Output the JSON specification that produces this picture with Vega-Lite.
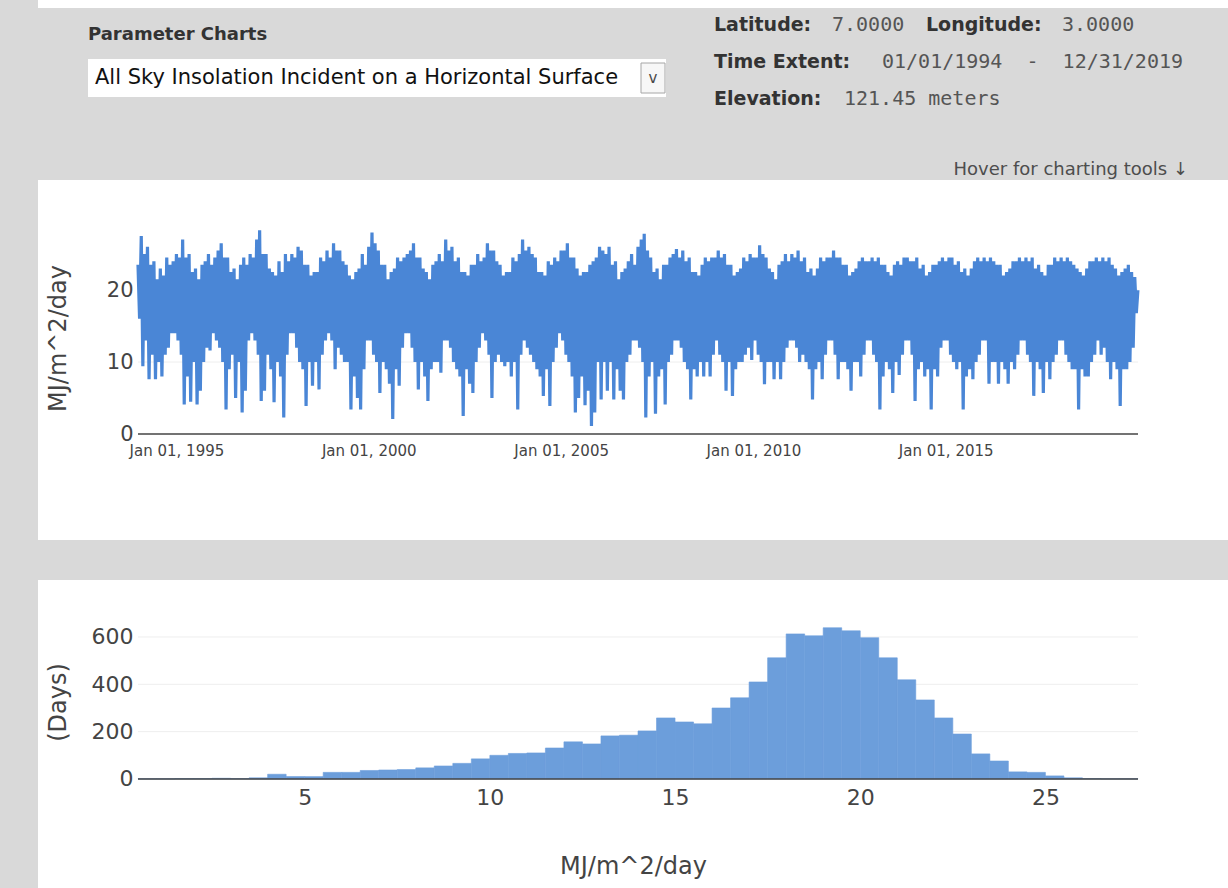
{
"$schema": "https://vega.github.io/schema/vega-lite/v6.json",
"background": "#d9d9d9",
"padding": {"left": 38, "top": 0, "right": 0, "bottom": 0},
"config": {"view": {"stroke": null}, "font": "DejaVu Sans", "axis": {"labelFont": "DejaVu Sans", "titleFont": "DejaVu Sans"}, "title": {"font": "DejaVu Sans"}},
"datasets": {
"daily": [
{"date":"1994-01-01","value":23.5},{"date":"1994-01-16","value":16},{"date":"1994-02-01","value":27.5},{"date":"1994-02-16","value":9.4},{"date":"1994-03-01","value":25},{"date":"1994-03-16","value":13},{"date":"1994-04-01","value":26},{"date":"1994-04-16","value":7.6},{"date":"1994-05-01","value":23.5},{"date":"1994-05-16","value":11},{"date":"1994-06-01","value":24},{"date":"1994-06-16","value":7.6},{"date":"1994-07-01","value":21.5},{"date":"1994-07-16","value":10},{"date":"1994-08-01","value":23},{"date":"1994-08-16","value":8},{"date":"1994-09-01","value":22},{"date":"1994-09-16","value":11},{"date":"1994-10-01","value":24.5},{"date":"1994-10-16","value":12},{"date":"1994-11-01","value":23.5},{"date":"1994-11-16","value":14},{"date":"1994-12-01","value":24},{"date":"1994-12-16","value":14},
{"date":"1995-01-01","value":25},{"date":"1995-01-16","value":13},{"date":"1995-02-01","value":24.5},{"date":"1995-02-16","value":11},{"date":"1995-03-01","value":27},{"date":"1995-03-16","value":4.1},{"date":"1995-04-01","value":24.5},{"date":"1995-04-16","value":8},{"date":"1995-05-01","value":25},{"date":"1995-05-16","value":4.5},{"date":"1995-06-01","value":22.5},{"date":"1995-06-16","value":10},{"date":"1995-07-01","value":23},{"date":"1995-07-16","value":4.1},{"date":"1995-08-01","value":21.5},{"date":"1995-08-16","value":6},{"date":"1995-09-01","value":23.5},{"date":"1995-09-16","value":10},{"date":"1995-10-01","value":24},{"date":"1995-10-16","value":12},{"date":"1995-11-01","value":25},{"date":"1995-11-16","value":11.6},{"date":"1995-12-01","value":23.5},{"date":"1995-12-16","value":14},
{"date":"1996-01-01","value":24.5},{"date":"1996-01-16","value":13},{"date":"1996-02-01","value":25.5},{"date":"1996-02-16","value":12},{"date":"1996-03-01","value":26.5},{"date":"1996-03-16","value":10},{"date":"1996-04-01","value":24.5},{"date":"1996-04-16","value":3.4},{"date":"1996-05-01","value":24.5},{"date":"1996-05-16","value":9},{"date":"1996-06-01","value":22.5},{"date":"1996-06-16","value":11},{"date":"1996-07-01","value":23},{"date":"1996-07-16","value":5},{"date":"1996-08-01","value":21.5},{"date":"1996-08-16","value":10},{"date":"1996-09-01","value":23.5},{"date":"1996-09-16","value":3},{"date":"1996-10-01","value":24.5},{"date":"1996-10-16","value":6},{"date":"1996-11-01","value":23.5},{"date":"1996-11-16","value":13},{"date":"1996-12-01","value":25},{"date":"1996-12-16","value":14},
{"date":"1997-01-01","value":24.5},{"date":"1997-01-16","value":13},{"date":"1997-02-01","value":27},{"date":"1997-02-16","value":11},{"date":"1997-03-01","value":28.3},{"date":"1997-03-16","value":4.6},{"date":"1997-04-01","value":25},{"date":"1997-04-16","value":6},{"date":"1997-05-01","value":25},{"date":"1997-05-16","value":11},{"date":"1997-06-01","value":23},{"date":"1997-06-16","value":9},{"date":"1997-07-01","value":22.5},{"date":"1997-07-16","value":4.4},{"date":"1997-08-01","value":22},{"date":"1997-08-16","value":10},{"date":"1997-09-01","value":24},{"date":"1997-09-16","value":8},{"date":"1997-10-01","value":22.5},{"date":"1997-10-16","value":2.3},{"date":"1997-11-01","value":25},{"date":"1997-11-16","value":11},{"date":"1997-12-01","value":24},{"date":"1997-12-16","value":14},
{"date":"1998-01-01","value":25},{"date":"1998-01-16","value":14},{"date":"1998-02-01","value":24.5},{"date":"1998-02-16","value":12},{"date":"1998-03-01","value":26},{"date":"1998-03-16","value":10},{"date":"1998-04-01","value":25.5},{"date":"1998-04-16","value":9},{"date":"1998-05-01","value":23.5},{"date":"1998-05-16","value":3.9},{"date":"1998-06-01","value":23.5},{"date":"1998-06-16","value":10},{"date":"1998-07-01","value":22},{"date":"1998-07-16","value":6.7},{"date":"1998-08-01","value":22.5},{"date":"1998-08-16","value":10},{"date":"1998-09-01","value":22.5},{"date":"1998-09-16","value":6.2},{"date":"1998-10-01","value":24.5},{"date":"1998-10-16","value":11},{"date":"1998-11-01","value":24},{"date":"1998-11-16","value":13},{"date":"1998-12-01","value":25.5},{"date":"1998-12-16","value":14},
{"date":"1999-01-01","value":24.5},{"date":"1999-01-16","value":13},{"date":"1999-02-01","value":26.5},{"date":"1999-02-16","value":9},{"date":"1999-03-01","value":25.5},{"date":"1999-03-16","value":12},{"date":"1999-04-01","value":25.5},{"date":"1999-04-16","value":11},{"date":"1999-05-01","value":24},{"date":"1999-05-16","value":10},{"date":"1999-06-01","value":23.5},{"date":"1999-06-16","value":10},{"date":"1999-07-01","value":22},{"date":"1999-07-16","value":3.4},{"date":"1999-08-01","value":21.5},{"date":"1999-08-16","value":8},{"date":"1999-09-01","value":22.5},{"date":"1999-09-16","value":5},{"date":"1999-10-01","value":23},{"date":"1999-10-16","value":3.4},{"date":"1999-11-01","value":25},{"date":"1999-11-16","value":9},{"date":"1999-12-01","value":23.5},{"date":"1999-12-16","value":13},
{"date":"2000-01-01","value":26},{"date":"2000-01-16","value":13},{"date":"2000-02-01","value":28},{"date":"2000-02-16","value":11},{"date":"2000-03-01","value":26.5},{"date":"2000-03-16","value":10},{"date":"2000-04-01","value":25.5},{"date":"2000-04-16","value":5.7},{"date":"2000-05-01","value":23.5},{"date":"2000-05-16","value":10},{"date":"2000-06-01","value":23.5},{"date":"2000-06-16","value":9},{"date":"2000-07-01","value":21.5},{"date":"2000-07-16","value":7},{"date":"2000-08-01","value":22.5},{"date":"2000-08-16","value":2.1},{"date":"2000-09-01","value":23},{"date":"2000-09-16","value":9},{"date":"2000-10-01","value":24.5},{"date":"2000-10-16","value":6.7},{"date":"2000-11-01","value":24},{"date":"2000-11-16","value":12},{"date":"2000-12-01","value":24.5},{"date":"2000-12-16","value":14},
{"date":"2001-01-01","value":25},{"date":"2001-01-16","value":14},{"date":"2001-02-01","value":25.5},{"date":"2001-02-16","value":12},{"date":"2001-03-01","value":26.5},{"date":"2001-03-16","value":10},{"date":"2001-04-01","value":24.5},{"date":"2001-04-16","value":6.2},{"date":"2001-05-01","value":24.5},{"date":"2001-05-16","value":10},{"date":"2001-06-01","value":23},{"date":"2001-06-16","value":8},{"date":"2001-07-01","value":22.5},{"date":"2001-07-16","value":4.6},{"date":"2001-08-01","value":21.5},{"date":"2001-08-16","value":9},{"date":"2001-09-01","value":23.5},{"date":"2001-09-16","value":10},{"date":"2001-10-01","value":24},{"date":"2001-10-16","value":10},{"date":"2001-11-01","value":25},{"date":"2001-11-16","value":8.5},{"date":"2001-12-01","value":24},{"date":"2001-12-16","value":13},
{"date":"2002-01-01","value":27},{"date":"2002-01-16","value":13},{"date":"2002-02-01","value":25.5},{"date":"2002-02-16","value":12},{"date":"2002-03-01","value":26},{"date":"2002-03-16","value":10},{"date":"2002-04-01","value":24},{"date":"2002-04-16","value":9},{"date":"2002-05-01","value":24.5},{"date":"2002-05-16","value":8},{"date":"2002-06-01","value":22.5},{"date":"2002-06-16","value":2.5},{"date":"2002-07-01","value":22.5},{"date":"2002-07-16","value":9},{"date":"2002-08-01","value":22},{"date":"2002-08-16","value":7},{"date":"2002-09-01","value":23.5},{"date":"2002-09-16","value":5.7},{"date":"2002-10-01","value":23.5},{"date":"2002-10-16","value":10},{"date":"2002-11-01","value":25},{"date":"2002-11-16","value":12},{"date":"2002-12-01","value":24},{"date":"2002-12-16","value":14},
{"date":"2003-01-01","value":24.5},{"date":"2003-01-16","value":13},{"date":"2003-02-01","value":26.5},{"date":"2003-02-16","value":11},{"date":"2003-03-01","value":25.5},{"date":"2003-03-16","value":5},{"date":"2003-04-01","value":25.5},{"date":"2003-04-16","value":10},{"date":"2003-05-01","value":24},{"date":"2003-05-16","value":11},{"date":"2003-06-01","value":23.5},{"date":"2003-06-16","value":10},{"date":"2003-07-01","value":22},{"date":"2003-07-16","value":9.4},{"date":"2003-08-01","value":22.5},{"date":"2003-08-16","value":10},{"date":"2003-09-01","value":22.5},{"date":"2003-09-16","value":8},{"date":"2003-10-01","value":24.5},{"date":"2003-10-16","value":10},{"date":"2003-11-01","value":24},{"date":"2003-11-16","value":3.4},{"date":"2003-12-01","value":25},{"date":"2003-12-16","value":11},
{"date":"2004-01-01","value":27},{"date":"2004-01-16","value":13},{"date":"2004-02-01","value":25.5},{"date":"2004-02-16","value":12},{"date":"2004-03-01","value":26},{"date":"2004-03-16","value":11},{"date":"2004-04-01","value":25},{"date":"2004-04-16","value":10},{"date":"2004-05-01","value":24.5},{"date":"2004-05-16","value":9},{"date":"2004-06-01","value":22.5},{"date":"2004-06-16","value":8},{"date":"2004-07-01","value":22.5},{"date":"2004-07-16","value":5.3},{"date":"2004-08-01","value":22},{"date":"2004-08-16","value":9},{"date":"2004-09-01","value":24},{"date":"2004-09-16","value":3.9},{"date":"2004-10-01","value":23.5},{"date":"2004-10-16","value":10},{"date":"2004-11-01","value":24.5},{"date":"2004-11-16","value":12},{"date":"2004-12-01","value":24},{"date":"2004-12-16","value":14},
{"date":"2005-01-01","value":25.5},{"date":"2005-01-16","value":13},{"date":"2005-02-01","value":25.5},{"date":"2005-02-16","value":11},{"date":"2005-03-01","value":26.5},{"date":"2005-03-16","value":10},{"date":"2005-04-01","value":24.5},{"date":"2005-04-16","value":8},{"date":"2005-05-01","value":24.5},{"date":"2005-05-16","value":3},{"date":"2005-06-01","value":23},{"date":"2005-06-16","value":5},{"date":"2005-07-01","value":22},{"date":"2005-07-16","value":8},{"date":"2005-08-01","value":22.5},{"date":"2005-08-16","value":4},{"date":"2005-09-01","value":22.5},{"date":"2005-09-16","value":6},{"date":"2005-10-01","value":23.5},{"date":"2005-10-16","value":1.1},{"date":"2005-11-01","value":24},{"date":"2005-11-16","value":3},{"date":"2005-12-01","value":24.5},{"date":"2005-12-16","value":10},
{"date":"2006-01-01","value":26},{"date":"2006-01-16","value":4.8},{"date":"2006-02-01","value":25.5},{"date":"2006-02-16","value":10},{"date":"2006-03-01","value":25},{"date":"2006-03-16","value":6},{"date":"2006-04-01","value":26},{"date":"2006-04-16","value":10},{"date":"2006-05-01","value":23.5},{"date":"2006-05-16","value":4.8},{"date":"2006-06-01","value":24},{"date":"2006-06-16","value":9},{"date":"2006-07-01","value":21.5},{"date":"2006-07-16","value":6},{"date":"2006-08-01","value":22.5},{"date":"2006-08-16","value":4.8},{"date":"2006-09-01","value":23},{"date":"2006-09-16","value":10},{"date":"2006-10-01","value":24},{"date":"2006-10-16","value":11},{"date":"2006-11-01","value":25},{"date":"2006-11-16","value":13},{"date":"2006-12-01","value":23.5},{"date":"2006-12-16","value":13},
{"date":"2007-01-01","value":26},{"date":"2007-01-16","value":12},{"date":"2007-02-01","value":27},{"date":"2007-02-16","value":10},{"date":"2007-03-01","value":27.8},{"date":"2007-03-16","value":2.3},{"date":"2007-04-01","value":25.5},{"date":"2007-04-16","value":8},{"date":"2007-05-01","value":24.5},{"date":"2007-05-16","value":10},{"date":"2007-06-01","value":22.5},{"date":"2007-06-16","value":2.8},{"date":"2007-07-01","value":23},{"date":"2007-07-16","value":8},{"date":"2007-08-01","value":21.5},{"date":"2007-08-16","value":9},{"date":"2007-09-01","value":23.5},{"date":"2007-09-16","value":4.1},{"date":"2007-10-01","value":23.5},{"date":"2007-10-16","value":10},{"date":"2007-11-01","value":24.5},{"date":"2007-11-16","value":11},{"date":"2007-12-01","value":25},{"date":"2007-12-16","value":13},
{"date":"2008-01-01","value":25.7},{"date":"2008-01-16","value":13},{"date":"2008-02-01","value":24.5},{"date":"2008-02-16","value":12},{"date":"2008-03-01","value":25.5},{"date":"2008-03-16","value":10},{"date":"2008-04-01","value":24},{"date":"2008-04-16","value":9},{"date":"2008-05-01","value":24.5},{"date":"2008-05-16","value":4.8},{"date":"2008-06-01","value":22.5},{"date":"2008-06-16","value":9},{"date":"2008-07-01","value":22.5},{"date":"2008-07-16","value":8},{"date":"2008-08-01","value":22},{"date":"2008-08-16","value":10},{"date":"2008-09-01","value":23.5},{"date":"2008-09-16","value":8},{"date":"2008-10-01","value":24.5},{"date":"2008-10-16","value":10},{"date":"2008-11-01","value":24},{"date":"2008-11-16","value":8},{"date":"2008-12-01","value":24.5},{"date":"2008-12-16","value":11},
{"date":"2009-01-01","value":24.5},{"date":"2009-01-16","value":13},{"date":"2009-02-01","value":25.5},{"date":"2009-02-16","value":11},{"date":"2009-03-01","value":24.5},{"date":"2009-03-16","value":10},{"date":"2009-04-01","value":25},{"date":"2009-04-16","value":6},{"date":"2009-05-01","value":23.5},{"date":"2009-05-16","value":10},{"date":"2009-06-01","value":23.5},{"date":"2009-06-16","value":5.3},{"date":"2009-07-01","value":22},{"date":"2009-07-16","value":9},{"date":"2009-08-01","value":22.5},{"date":"2009-08-16","value":10},{"date":"2009-09-01","value":23},{"date":"2009-09-16","value":10},{"date":"2009-10-01","value":24.5},{"date":"2009-10-16","value":11},{"date":"2009-11-01","value":24},{"date":"2009-11-16","value":12},{"date":"2009-12-01","value":25},{"date":"2009-12-16","value":10.3},
{"date":"2010-01-01","value":24.5},{"date":"2010-01-16","value":13},{"date":"2010-02-01","value":24.5},{"date":"2010-02-16","value":11},{"date":"2010-03-01","value":26.2},{"date":"2010-03-16","value":10},{"date":"2010-04-01","value":25},{"date":"2010-04-16","value":6.9},{"date":"2010-05-01","value":24.5},{"date":"2010-05-16","value":10},{"date":"2010-06-01","value":23},{"date":"2010-06-16","value":10},{"date":"2010-07-01","value":22.5},{"date":"2010-07-16","value":7.6},{"date":"2010-08-01","value":21.5},{"date":"2010-08-16","value":10},{"date":"2010-09-01","value":23.5},{"date":"2010-09-16","value":7.6},{"date":"2010-10-01","value":24},{"date":"2010-10-16","value":10},{"date":"2010-11-01","value":25},{"date":"2010-11-16","value":12},{"date":"2010-12-01","value":24},{"date":"2010-12-16","value":13},
{"date":"2011-01-01","value":25},{"date":"2011-01-16","value":13},{"date":"2011-02-01","value":24.5},{"date":"2011-02-16","value":12},{"date":"2011-03-01","value":25.5},{"date":"2011-03-16","value":10},{"date":"2011-04-01","value":24},{"date":"2011-04-16","value":11},{"date":"2011-05-01","value":24.5},{"date":"2011-05-16","value":10},{"date":"2011-06-01","value":22.5},{"date":"2011-06-16","value":9},{"date":"2011-07-01","value":23},{"date":"2011-07-16","value":4.8},{"date":"2011-08-01","value":22},{"date":"2011-08-16","value":9},{"date":"2011-09-01","value":23},{"date":"2011-09-16","value":10},{"date":"2011-10-01","value":24.5},{"date":"2011-10-16","value":7.6},{"date":"2011-11-01","value":24},{"date":"2011-11-16","value":11},{"date":"2011-12-01","value":24.5},{"date":"2011-12-16","value":13},
{"date":"2012-01-01","value":24.5},{"date":"2012-01-16","value":13},{"date":"2012-02-01","value":25.5},{"date":"2012-02-16","value":11},{"date":"2012-03-01","value":24.5},{"date":"2012-03-16","value":7.6},{"date":"2012-04-01","value":24.5},{"date":"2012-04-16","value":10},{"date":"2012-05-01","value":23.5},{"date":"2012-05-16","value":10},{"date":"2012-06-01","value":23.5},{"date":"2012-06-16","value":9},{"date":"2012-07-01","value":22},{"date":"2012-07-16","value":6},{"date":"2012-08-01","value":22.5},{"date":"2012-08-16","value":10},{"date":"2012-09-01","value":23},{"date":"2012-09-16","value":10},{"date":"2012-10-01","value":24},{"date":"2012-10-16","value":8},{"date":"2012-11-01","value":24.5},{"date":"2012-11-16","value":11},{"date":"2012-12-01","value":24},{"date":"2012-12-16","value":13},
{"date":"2013-01-01","value":24},{"date":"2013-01-16","value":13},{"date":"2013-02-01","value":24.5},{"date":"2013-02-16","value":11},{"date":"2013-03-01","value":24},{"date":"2013-03-16","value":10},{"date":"2013-04-01","value":24.5},{"date":"2013-04-16","value":3.4},{"date":"2013-05-01","value":23.5},{"date":"2013-05-16","value":8},{"date":"2013-06-01","value":23.5},{"date":"2013-06-16","value":10},{"date":"2013-07-01","value":22.5},{"date":"2013-07-16","value":9},{"date":"2013-08-01","value":22},{"date":"2013-08-16","value":5.7},{"date":"2013-09-01","value":23.5},{"date":"2013-09-16","value":10},{"date":"2013-10-01","value":24},{"date":"2013-10-16","value":8.2},{"date":"2013-11-01","value":23.5},{"date":"2013-11-16","value":11},{"date":"2013-12-01","value":24.5},{"date":"2013-12-16","value":13},
{"date":"2014-01-01","value":24.5},{"date":"2014-01-16","value":13},{"date":"2014-02-01","value":24},{"date":"2014-02-16","value":11},{"date":"2014-03-01","value":24},{"date":"2014-03-16","value":4.6},{"date":"2014-04-01","value":24.5},{"date":"2014-04-16","value":9},{"date":"2014-05-01","value":23},{"date":"2014-05-16","value":10},{"date":"2014-06-01","value":23.5},{"date":"2014-06-16","value":8},{"date":"2014-07-01","value":22},{"date":"2014-07-16","value":9},{"date":"2014-08-01","value":22.5},{"date":"2014-08-16","value":3.4},{"date":"2014-09-01","value":23.5},{"date":"2014-09-16","value":9},{"date":"2014-10-01","value":23.5},{"date":"2014-10-16","value":8},{"date":"2014-11-01","value":24},{"date":"2014-11-16","value":12},{"date":"2014-12-01","value":24.5},{"date":"2014-12-16","value":13},
{"date":"2015-01-01","value":24},{"date":"2015-01-16","value":13},{"date":"2015-02-01","value":24.5},{"date":"2015-02-16","value":11},{"date":"2015-03-01","value":24.5},{"date":"2015-03-16","value":10},{"date":"2015-04-01","value":23.5},{"date":"2015-04-16","value":9},{"date":"2015-05-01","value":24},{"date":"2015-05-16","value":10},{"date":"2015-06-01","value":22.5},{"date":"2015-06-16","value":3.4},{"date":"2015-07-01","value":23},{"date":"2015-07-16","value":8},{"date":"2015-08-01","value":22},{"date":"2015-08-16","value":9},{"date":"2015-09-01","value":23},{"date":"2015-09-16","value":7.6},{"date":"2015-10-01","value":24},{"date":"2015-10-16","value":10},{"date":"2015-11-01","value":24.5},{"date":"2015-11-16","value":11},{"date":"2015-12-01","value":24},{"date":"2015-12-16","value":13},
{"date":"2016-01-01","value":24.5},{"date":"2016-01-16","value":13},{"date":"2016-02-01","value":24},{"date":"2016-02-16","value":7},{"date":"2016-03-01","value":24.5},{"date":"2016-03-16","value":10},{"date":"2016-04-01","value":24},{"date":"2016-04-16","value":10},{"date":"2016-05-01","value":23.5},{"date":"2016-05-16","value":7},{"date":"2016-06-01","value":23.5},{"date":"2016-06-16","value":10},{"date":"2016-07-01","value":22},{"date":"2016-07-16","value":9},{"date":"2016-08-01","value":22.5},{"date":"2016-08-16","value":7},{"date":"2016-09-01","value":23},{"date":"2016-09-16","value":10},{"date":"2016-10-01","value":24},{"date":"2016-10-16","value":9},{"date":"2016-11-01","value":24},{"date":"2016-11-16","value":11},{"date":"2016-12-01","value":24.5},{"date":"2016-12-16","value":13},
{"date":"2017-01-01","value":24},{"date":"2017-01-16","value":13},{"date":"2017-02-01","value":24.5},{"date":"2017-02-16","value":11},{"date":"2017-03-01","value":24},{"date":"2017-03-16","value":10},{"date":"2017-04-01","value":24.5},{"date":"2017-04-16","value":5.3},{"date":"2017-05-01","value":23},{"date":"2017-05-16","value":10},{"date":"2017-06-01","value":23.5},{"date":"2017-06-16","value":9},{"date":"2017-07-01","value":22.5},{"date":"2017-07-16","value":5.7},{"date":"2017-08-01","value":22},{"date":"2017-08-16","value":10},{"date":"2017-09-01","value":23.5},{"date":"2017-09-16","value":7.6},{"date":"2017-10-01","value":23.5},{"date":"2017-10-16","value":10},{"date":"2017-11-01","value":24.5},{"date":"2017-11-16","value":11},{"date":"2017-12-01","value":24},{"date":"2017-12-16","value":13},
{"date":"2018-01-01","value":24.5},{"date":"2018-01-16","value":13},{"date":"2018-02-01","value":24},{"date":"2018-02-16","value":11},{"date":"2018-03-01","value":24.5},{"date":"2018-03-16","value":10},{"date":"2018-04-01","value":24},{"date":"2018-04-16","value":9},{"date":"2018-05-01","value":23.5},{"date":"2018-05-16","value":9},{"date":"2018-06-01","value":23},{"date":"2018-06-16","value":3.4},{"date":"2018-07-01","value":22.5},{"date":"2018-07-16","value":9},{"date":"2018-08-01","value":22},{"date":"2018-08-16","value":8},{"date":"2018-09-01","value":23},{"date":"2018-09-16","value":8},{"date":"2018-10-01","value":24},{"date":"2018-10-16","value":10},{"date":"2018-11-01","value":24},{"date":"2018-11-16","value":11},{"date":"2018-12-01","value":24.5},{"date":"2018-12-16","value":13},
{"date":"2019-01-01","value":24},{"date":"2019-01-16","value":11},{"date":"2019-02-01","value":24.5},{"date":"2019-02-16","value":12},{"date":"2019-03-01","value":24},{"date":"2019-03-16","value":10},{"date":"2019-04-01","value":24.5},{"date":"2019-04-16","value":7.6},{"date":"2019-05-01","value":23.5},{"date":"2019-05-16","value":10},{"date":"2019-06-01","value":23},{"date":"2019-06-16","value":9},{"date":"2019-07-01","value":22},{"date":"2019-07-16","value":3.9},{"date":"2019-08-01","value":22.5},{"date":"2019-08-16","value":9},{"date":"2019-09-01","value":23},{"date":"2019-09-16","value":9},{"date":"2019-10-01","value":23.5},{"date":"2019-10-16","value":10},{"date":"2019-11-01","value":22.5},{"date":"2019-11-16","value":12},{"date":"2019-12-01","value":21.8},{"date":"2019-12-16","value":16.8},{"date":"2019-12-31","value":20}
],
"hist": [
{"bin_start":0.5,"bin_end":1.0,"count":1},{"bin_start":1.0,"bin_end":1.5,"count":1},{"bin_start":1.5,"bin_end":2.0,"count":2},{"bin_start":2.0,"bin_end":2.5,"count":2},{"bin_start":2.5,"bin_end":3.0,"count":3},{"bin_start":3.0,"bin_end":3.5,"count":2},{"bin_start":3.5,"bin_end":4.0,"count":5},
{"bin_start":4.0,"bin_end":4.5,"count":20},{"bin_start":4.5,"bin_end":5.0,"count":10},{"bin_start":5.0,"bin_end":5.5,"count":10},{"bin_start":5.5,"bin_end":6.0,"count":28},{"bin_start":6.0,"bin_end":6.5,"count":28},{"bin_start":6.5,"bin_end":7.0,"count":36},{"bin_start":7.0,"bin_end":7.5,"count":38},{"bin_start":7.5,"bin_end":8.0,"count":40},
{"bin_start":8.0,"bin_end":8.5,"count":47},{"bin_start":8.5,"bin_end":9.0,"count":55},{"bin_start":9.0,"bin_end":9.5,"count":66},{"bin_start":9.5,"bin_end":10.0,"count":85},{"bin_start":10.0,"bin_end":10.5,"count":100},{"bin_start":10.5,"bin_end":11.0,"count":108},{"bin_start":11.0,"bin_end":11.5,"count":110},{"bin_start":11.5,"bin_end":12.0,"count":131},
{"bin_start":12.0,"bin_end":12.5,"count":157},{"bin_start":12.5,"bin_end":13.0,"count":148},{"bin_start":13.0,"bin_end":13.5,"count":182},{"bin_start":13.5,"bin_end":14.0,"count":185},{"bin_start":14.0,"bin_end":14.5,"count":203},{"bin_start":14.5,"bin_end":15.0,"count":258},{"bin_start":15.0,"bin_end":15.5,"count":241},{"bin_start":15.5,"bin_end":16.0,"count":233},
{"bin_start":16.0,"bin_end":16.5,"count":300},{"bin_start":16.5,"bin_end":17.0,"count":343},{"bin_start":17.0,"bin_end":17.5,"count":410},{"bin_start":17.5,"bin_end":18.0,"count":512},{"bin_start":18.0,"bin_end":18.5,"count":613},{"bin_start":18.5,"bin_end":19.0,"count":605},{"bin_start":19.0,"bin_end":19.5,"count":639},{"bin_start":19.5,"bin_end":20.0,"count":626},
{"bin_start":20.0,"bin_end":20.5,"count":597},{"bin_start":20.5,"bin_end":21.0,"count":512},{"bin_start":21.0,"bin_end":21.5,"count":419},{"bin_start":21.5,"bin_end":22.0,"count":334},{"bin_start":22.0,"bin_end":22.5,"count":258},{"bin_start":22.5,"bin_end":23.0,"count":190},{"bin_start":23.0,"bin_end":23.5,"count":106},{"bin_start":23.5,"bin_end":24.0,"count":76},
{"bin_start":24.0,"bin_end":24.5,"count":30},{"bin_start":24.5,"bin_end":25.0,"count":28},{"bin_start":25.0,"bin_end":25.5,"count":13},{"bin_start":25.5,"bin_end":26.0,"count":5},{"bin_start":26.0,"bin_end":26.5,"count":2},{"bin_start":26.5,"bin_end":27.0,"count":1},{"bin_start":27.0,"bin_end":27.5,"count":1}
]
},
"bounds": "flush",
"spacing": 40,
"vconcat": [
{
 "width": 1190, "height": 140,
 "resolve": {"scale": {"x": "independent", "y": "independent"}},
 "layer": [
  {"data": {"values": [{"widget": "top strip"}]},
   "mark": {"type": "rect", "fill": "#ffffff"},
   "encoding": {
    "x": {"field": "widget", "type": "nominal", "scale": {"type": "band", "range": [0, 1190], "paddingInner": 0, "paddingOuter": 0}, "axis": null},
    "y": {"field": "widget", "type": "nominal", "scale": {"type": "band", "range": [0, 8], "paddingInner": 0, "paddingOuter": 0}, "axis": null}}},
  {"data": {"values": [{"widget": "menu"}]},
   "mark": {"type": "rect", "fill": "#ffffff"},
   "encoding": {
    "x": {"field": "widget", "type": "nominal", "scale": {"type": "band", "range": [50, 628], "paddingInner": 0, "paddingOuter": 0}, "axis": null},
    "y": {"field": "widget", "type": "nominal", "scale": {"type": "band", "range": [59, 97], "paddingInner": 0, "paddingOuter": 0}, "axis": null}}},
  {"data": {"values": [{"widget": "button", "glyph": "v"}]},
   "mark": {"type": "rect", "fill": "#f7f7f7", "stroke": "#a6a6a6", "strokeWidth": 1},
   "encoding": {
    "x": {"field": "widget", "type": "nominal", "scale": {"type": "band", "range": [603, 627], "paddingInner": 0, "paddingOuter": 0}, "axis": null},
    "y": {"field": "widget", "type": "nominal", "scale": {"type": "band", "range": [63, 93], "paddingInner": 0, "paddingOuter": 0}, "axis": null}}},
  {"data": {"values": [{"widget": "button", "glyph": "v"}]},
   "mark": {"type": "text", "fontSize": 15, "color": "#4a4a4a", "font": "DejaVu Sans", "align": "center", "baseline": "middle"},
   "encoding": {
    "x": {"field": "widget", "type": "nominal", "scale": {"type": "band", "range": [603, 627], "paddingInner": 0, "paddingOuter": 0}, "axis": null},
    "y": {"field": "widget", "type": "nominal", "scale": {"type": "band", "range": [63, 93], "paddingInner": 0, "paddingOuter": 0}, "axis": null},
    "text": {"field": "glyph"}}},
  {"data": {"values": [{"widget": "heading", "text": "Parameter Charts"}]},
   "mark": {"type": "text", "fontSize": 18, "fontWeight": "bold", "color": "#333333", "font": "DejaVu Sans", "align": "left", "baseline": "middle"},
   "encoding": {
    "x": {"field": "widget", "type": "nominal", "bandPosition": 0, "scale": {"type": "band", "range": [50, 628], "paddingInner": 0, "paddingOuter": 0}, "axis": null},
    "y": {"field": "widget", "type": "nominal", "scale": {"type": "band", "range": [26, 44], "paddingInner": 0, "paddingOuter": 0}, "axis": null},
    "text": {"field": "text"}}},
  {"data": {"values": [{"widget": "menu", "text": "All Sky Insolation Incident on a Horizontal Surface"}]},
   "mark": {"type": "text", "fontSize": 21, "color": "#111111", "font": "DejaVu Sans", "align": "left", "baseline": "middle"},
   "encoding": {
    "x": {"field": "widget", "type": "nominal", "bandPosition": 0, "scale": {"type": "band", "range": [57, 628], "paddingInner": 0, "paddingOuter": 0}, "axis": null},
    "y": {"field": "widget", "type": "nominal", "scale": {"type": "band", "range": [59, 97], "paddingInner": 0, "paddingOuter": 0}, "axis": null},
    "text": {"field": "text"}}},
  {"data": {"values": [
    {"block": "site", "line": "1", "text": "Latitude:"},
    {"block": "site", "line": "2", "text": "Time Extent:"},
    {"block": "site", "line": "3", "text": "Elevation:"}]},
   "mark": {"type": "text", "fontSize": 19, "fontWeight": "bold", "color": "#333333", "font": "DejaVu Sans", "align": "left", "baseline": "middle"},
   "encoding": {
    "x": {"field": "block", "type": "nominal", "bandPosition": 0, "scale": {"type": "band", "range": [676, 1190], "paddingInner": 0, "paddingOuter": 0}, "axis": null},
    "y": {"field": "line", "type": "ordinal", "scale": {"type": "point", "domain": ["1", "2", "3"], "range": [25, 99], "padding": 0}, "axis": null},
    "text": {"field": "text"}}},
  {"data": {"values": [{"block": "site", "line": "1", "text": "Longitude:"}]},
   "mark": {"type": "text", "fontSize": 19, "fontWeight": "bold", "color": "#333333", "font": "DejaVu Sans", "align": "left", "baseline": "middle"},
   "encoding": {
    "x": {"field": "block", "type": "nominal", "bandPosition": 0, "scale": {"type": "band", "range": [888, 1190], "paddingInner": 0, "paddingOuter": 0}, "axis": null},
    "y": {"field": "line", "type": "ordinal", "scale": {"type": "point", "domain": ["1", "2", "3"], "range": [25, 99], "padding": 0}, "axis": null},
    "text": {"field": "text"}}},
  {"data": {"values": [{"block": "site", "line": "1", "text": "7.0000"}]},
   "mark": {"type": "text", "fontSize": 20, "color": "#555555", "font": "DejaVu Sans Mono", "align": "left", "baseline": "middle"},
   "encoding": {
    "x": {"field": "block", "type": "nominal", "bandPosition": 0, "scale": {"type": "band", "range": [794, 1190], "paddingInner": 0, "paddingOuter": 0}, "axis": null},
    "y": {"field": "line", "type": "ordinal", "scale": {"type": "point", "domain": ["1", "2", "3"], "range": [25, 99], "padding": 0}, "axis": null},
    "text": {"field": "text"}}},
  {"data": {"values": [{"block": "site", "line": "1", "text": "3.0000"}]},
   "mark": {"type": "text", "fontSize": 20, "color": "#555555", "font": "DejaVu Sans Mono", "align": "left", "baseline": "middle"},
   "encoding": {
    "x": {"field": "block", "type": "nominal", "bandPosition": 0, "scale": {"type": "band", "range": [1024, 1190], "paddingInner": 0, "paddingOuter": 0}, "axis": null},
    "y": {"field": "line", "type": "ordinal", "scale": {"type": "point", "domain": ["1", "2", "3"], "range": [25, 99], "padding": 0}, "axis": null},
    "text": {"field": "text"}}},
  {"data": {"values": [{"block": "site", "line": "2", "text": "01/01/1994\u00a0\u00a0-\u00a0\u00a012/31/2019"}]},
   "mark": {"type": "text", "fontSize": 20, "color": "#555555", "font": "DejaVu Sans Mono", "align": "left", "baseline": "middle"},
   "encoding": {
    "x": {"field": "block", "type": "nominal", "bandPosition": 0, "scale": {"type": "band", "range": [844, 1190], "paddingInner": 0, "paddingOuter": 0}, "axis": null},
    "y": {"field": "line", "type": "ordinal", "scale": {"type": "point", "domain": ["1", "2", "3"], "range": [25, 99], "padding": 0}, "axis": null},
    "text": {"field": "text"}}},
  {"data": {"values": [{"block": "site", "line": "3", "text": "121.45\u00a0meters"}]},
   "mark": {"type": "text", "fontSize": 20, "color": "#555555", "font": "DejaVu Sans Mono", "align": "left", "baseline": "middle"},
   "encoding": {
    "x": {"field": "block", "type": "nominal", "bandPosition": 0, "scale": {"type": "band", "range": [806, 1190], "paddingInner": 0, "paddingOuter": 0}, "axis": null},
    "y": {"field": "line", "type": "ordinal", "scale": {"type": "point", "domain": ["1", "2", "3"], "range": [25, 99], "padding": 0}, "axis": null},
    "text": {"field": "text"}}}
 ]
},
{
 "width": 1190, "height": 360,
 "view": {"fill": "#ffffff", "stroke": null},
 "title": {"text": "Hover for charting tools \u2193", "anchor": "end", "frame": "group", "orient": "top", "offset": 1, "dx": -40, "fontSize": 18, "fontWeight": "normal", "color": "#4d4d4d", "font": "DejaVu Sans"},
 "layer": [
  {"data": {"values": [{"level": 10}, {"level": 20}]},
   "mark": {"type": "rule", "color": "#eeeeee", "strokeWidth": 1},
   "encoding": {
    "x": {"datum": {"year": 1994, "month": 1, "date": 1, "utc": true}, "type": "temporal", "scale": {"type": "utc"}},
    "x2": {"datum": {"year": 2020, "month": 1, "date": 1, "utc": true}},
    "y": {"field": "level", "type": "quantitative"}}},
  {"data": {"name": "daily"},
   "mark": {"type": "line", "color": "#4a86d6", "strokeWidth": 3.2, "strokeJoin": "miter"},
   "encoding": {
    "x": {"field": "date", "type": "temporal",
     "scale": {"type": "utc", "domain": [{"year": 1991, "month": 5, "date": 27, "hours": 9, "minutes": 36, "utc": true}, {"year": 2022, "month": 5, "date": 4, "hours": 14, "minutes": 24, "utc": true}]},
     "axis": {"values": [{"year": 1995, "month": 1, "date": 1, "utc": true}, {"year": 2000, "month": 1, "date": 1, "utc": true}, {"year": 2005, "month": 1, "date": 1, "utc": true}, {"year": 2010, "month": 1, "date": 1, "utc": true}, {"year": 2015, "month": 1, "date": 1, "utc": true}],
      "format": "%b %d, %Y", "offset": -106, "domain": false, "ticks": false, "tickSize": 0, "grid": false, "labelFontSize": 15, "labelPadding": 9, "labelColor": "#444444", "title": null, "labelOverlap": false, "labelFlush": false}},
    "y": {"field": "value", "type": "quantitative",
     "scale": {"domain": [-14.72, 35.28], "nice": false, "zero": false},
     "axis": {"values": [0, 10, 20], "offset": -100, "domain": false, "ticks": false, "tickSize": 0, "grid": false, "labelFontSize": 21, "labelPadding": 5, "labelColor": "#444444",
      "title": "MJ/m^2/day", "titleFontSize": 24, "titleFontWeight": "normal", "titleColor": "#444444", "titleX": -80, "titleY": 158, "titleAngle": -90, "titleAlign": "center", "titleBaseline": "middle"}}}},
  {"data": {"values": [{}]},
   "mark": {"type": "rule", "color": "#444444", "strokeWidth": 1.6},
   "encoding": {
    "x": {"datum": {"year": 1994, "month": 1, "date": 1, "utc": true}, "type": "temporal"},
    "x2": {"datum": {"year": 2020, "month": 1, "date": 1, "utc": true}},
    "y": {"datum": 0, "type": "quantitative"}}}
 ]
},
{
 "width": 1190, "height": 308,
 "view": {"fill": "#ffffff", "stroke": null},
 "layer": [
  {"data": {"values": [{"level": 200}, {"level": 400}, {"level": 600}]},
   "mark": {"type": "rule", "color": "#eeeeee", "strokeWidth": 1},
   "encoding": {
    "x": {"datum": 0.5, "type": "quantitative"},
    "x2": {"datum": 27.5},
    "y": {"field": "level", "type": "quantitative"}}},
  {"data": {"name": "hist"},
   "mark": {"type": "rect", "color": "#6c9edb", "stroke": "#6c9edb", "strokeWidth": 0.6},
   "encoding": {
    "x": {"field": "bin_start", "type": "quantitative",
     "scale": {"domain": [-2.2, 29.93], "nice": false, "zero": false},
     "axis": {"values": [5, 10, 15, 20, 25], "offset": -109, "domain": false, "ticks": false, "tickSize": 0, "grid": false, "labelFontSize": 22, "labelPadding": 8, "labelColor": "#444444",
      "title": "MJ/m^2/day", "titleFontSize": 24, "titleFontWeight": "normal", "titleColor": "#444444", "titleY": 87, "titleBaseline": "middle"}},
    "x2": {"field": "bin_end"},
    "y": {"field": "count", "type": "quantitative",
     "scale": {"domain": [-460.6, 840.8], "nice": false, "zero": false},
     "axis": {"values": [0, 200, 400, 600], "offset": -100, "domain": false, "ticks": false, "tickSize": 0, "grid": false, "labelFontSize": 22, "labelPadding": 5, "labelColor": "#444444",
      "title": "(Days)", "titleFontSize": 24, "titleFontWeight": "normal", "titleColor": "#444444", "titleX": -80, "titleY": 122, "titleAngle": -90, "titleAlign": "center", "titleBaseline": "middle"}},
    "y2": {"datum": 0}}},
  {"data": {"values": [{}]},
   "mark": {"type": "rule", "color": "#444444", "strokeWidth": 1.6},
   "encoding": {
    "x": {"datum": 0.5, "type": "quantitative"},
    "x2": {"datum": 27.5},
    "y": {"datum": 0, "type": "quantitative"}}}
 ]
}
]
}
